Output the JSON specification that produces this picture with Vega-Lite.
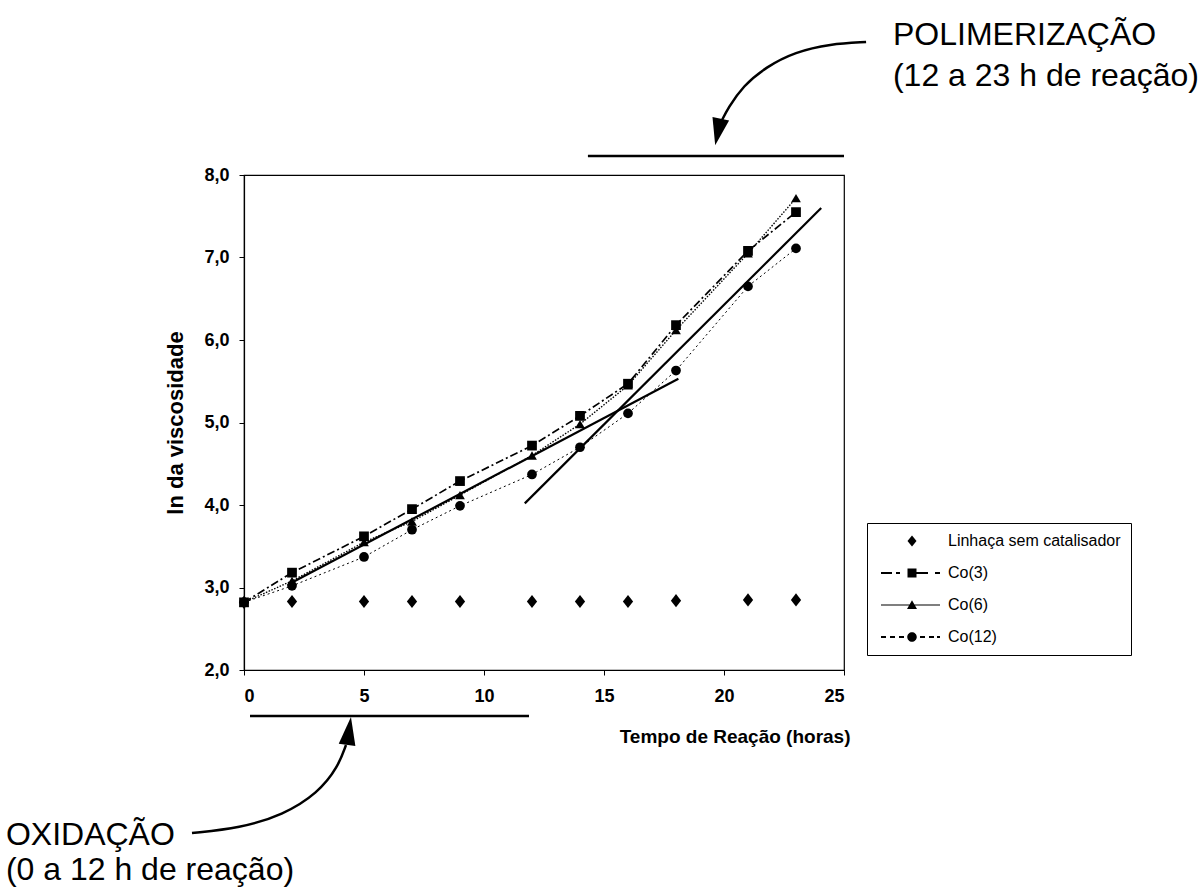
{
  "$schema": "https://vega.github.io/schema/vega-lite/v6.json",
  "width": 600,
  "height": 495,
  "autosize": {"type": "none"},
  "padding": {"left": 244, "top": 175, "right": 358, "bottom": 218},
  "background": "white",
  "config": {
    "view": {"stroke": "black", "strokeWidth": 1.2},
    "font": "Liberation Sans",
    "axis": {
      "grid": false, "domainColor": "black", "domainWidth": 1.2,
      "tickColor": "black", "tickSize": 5, "tickWidth": 1,
      "labelColor": "black", "titleColor": "black",
      "labelFont": "Liberation Sans", "titleFont": "Liberation Sans",
      "labelFontWeight": "bold", "titleFontWeight": "bold",
      "labelFontSize": 18, "titleFontSize": 20
    }
  },
  "datasets": {
    "pts": [
      {"t": 0, "v": 2.82, "serie": "Linhaça sem catalisador"},
      {"t": 2, "v": 2.83, "serie": "Linhaça sem catalisador"},
      {"t": 5, "v": 2.83, "serie": "Linhaça sem catalisador"},
      {"t": 7, "v": 2.83, "serie": "Linhaça sem catalisador"},
      {"t": 9, "v": 2.83, "serie": "Linhaça sem catalisador"},
      {"t": 12, "v": 2.83, "serie": "Linhaça sem catalisador"},
      {"t": 14, "v": 2.83, "serie": "Linhaça sem catalisador"},
      {"t": 16, "v": 2.83, "serie": "Linhaça sem catalisador"},
      {"t": 18, "v": 2.84, "serie": "Linhaça sem catalisador"},
      {"t": 21, "v": 2.85, "serie": "Linhaça sem catalisador"},
      {"t": 23, "v": 2.85, "serie": "Linhaça sem catalisador"},
      {"t": 0, "v": 2.82, "serie": "Co(12)"},
      {"t": 2, "v": 3.02, "serie": "Co(12)"},
      {"t": 5, "v": 3.37, "serie": "Co(12)"},
      {"t": 7, "v": 3.70, "serie": "Co(12)"},
      {"t": 9, "v": 3.99, "serie": "Co(12)"},
      {"t": 12, "v": 4.37, "serie": "Co(12)"},
      {"t": 14, "v": 4.70, "serie": "Co(12)"},
      {"t": 16, "v": 5.11, "serie": "Co(12)"},
      {"t": 18, "v": 5.63, "serie": "Co(12)"},
      {"t": 21, "v": 6.65, "serie": "Co(12)"},
      {"t": 23, "v": 7.11, "serie": "Co(12)"},
      {"t": 0, "v": 2.82, "serie": "Co(6)"},
      {"t": 2, "v": 3.08, "serie": "Co(6)"},
      {"t": 5, "v": 3.55, "serie": "Co(6)"},
      {"t": 7, "v": 3.80, "serie": "Co(6)"},
      {"t": 9, "v": 4.12, "serie": "Co(6)"},
      {"t": 12, "v": 4.60, "serie": "Co(6)"},
      {"t": 14, "v": 4.98, "serie": "Co(6)"},
      {"t": 16, "v": 5.45, "serie": "Co(6)"},
      {"t": 18, "v": 6.12, "serie": "Co(6)"},
      {"t": 21, "v": 7.05, "serie": "Co(6)"},
      {"t": 23, "v": 7.72, "serie": "Co(6)"},
      {"t": 0, "v": 2.82, "serie": "Co(3)"},
      {"t": 2, "v": 3.18, "serie": "Co(3)"},
      {"t": 5, "v": 3.62, "serie": "Co(3)"},
      {"t": 7, "v": 3.95, "serie": "Co(3)"},
      {"t": 9, "v": 4.29, "serie": "Co(3)"},
      {"t": 12, "v": 4.72, "serie": "Co(3)"},
      {"t": 14, "v": 5.08, "serie": "Co(3)"},
      {"t": 16, "v": 5.47, "serie": "Co(3)"},
      {"t": 18, "v": 6.18, "serie": "Co(3)"},
      {"t": 21, "v": 7.08, "serie": "Co(3)"},
      {"t": 23, "v": 7.55, "serie": "Co(3)"}
    ]
  },
  "encoding": {
    "x": {
      "field": "t", "type": "quantitative", "title": "Tempo de Reação (horas)",
      "scale": {"domain": [0, 25], "nice": false, "zero": false},
      "axis": {"values": [0, 5, 10, 15, 20, 25], "labelPadding": 12, "titleAnchor": "end", "titleAlign": "right", "titleX": 606, "titlePadding": 22, "titleFontSize": 19}
    },
    "y": {
      "field": "v", "type": "quantitative", "title": "ln da viscosidade",
      "scale": {"domain": [2, 8], "nice": false, "zero": false},
      "axis": {"values": [2, 3, 4, 5, 6, 7, 8], "labelExpr": "replace(format(datum.value, '.1f'), '.', ',')", "labelPadding": 10, "titlePadding": 16, "titleFontSize": 22}
    }
  },
  "resolve": {"scale": {"shape": "independent"}},
  "layer": [
    {
      "data": {"values": [
        {"t": 0.25, "t2": 11.875, "v": 1.442},
        {"t": 14.33, "t2": 25, "v": 8.23}
      ]},
      "mark": {"type": "rule", "color": "black", "strokeWidth": 2.5},
      "encoding": {"x2": {"field": "t2"}}
    },
    {
      "data": {"values": [
        {"t": 25.92, "v": 9.612, "arrow": "top", "k": 1},
        {"t": 24.42, "v": 9.588, "arrow": "top", "k": 2},
        {"t": 22.96, "v": 9.491, "arrow": "top", "k": 3},
        {"t": 21.75, "v": 9.309, "arrow": "top", "k": 4},
        {"t": 20.79, "v": 9.079, "arrow": "top", "k": 5},
        {"t": 20.17, "v": 8.812, "arrow": "top", "k": 6},
        {"t": 19.875, "v": 8.642, "arrow": "top", "k": 7},
        {"t": -2.167, "v": 0.024, "arrow": "bottom", "k": 1},
        {"t": -0.167, "v": 0.085, "arrow": "bottom", "k": 2},
        {"t": 1.625, "v": 0.242, "arrow": "bottom", "k": 3},
        {"t": 3.083, "v": 0.509, "arrow": "bottom", "k": 4},
        {"t": 3.917, "v": 0.824, "arrow": "bottom", "k": 5},
        {"t": 4.25, "v": 1.091, "arrow": "bottom", "k": 6}
      ]},
      "mark": {"type": "line", "color": "black", "strokeWidth": 2.5, "interpolate": "basis"},
      "encoding": {"detail": {"field": "arrow"}, "order": {"field": "k", "type": "quantitative"}}
    },
    {
      "data": {"values": [{"t": 19.75, "v": 8.521}]},
      "mark": {"type": "point", "filled": true, "color": "black", "opacity": 1, "shape": "M-0.63,-1L0.63,-1L0,1Z", "size": 729, "angle": 12}
    },
    {
      "data": {"values": [{"t": 4.375, "v": 1.261}]},
      "mark": {"type": "point", "filled": true, "color": "black", "opacity": 1, "shape": "M-0.6,1L0.6,1L0,-1Z", "size": 784, "angle": 8}
    },
    {
      "data": {"values": [
        {"t": 27.04, "v": 9.70, "label": "POLIMERIZAÇÃO"},
        {"t": 27.04, "v": 9.20, "label": "(12 a 23 h de reação)"},
        {"t": -9.92, "v": 0.0, "label": "OXIDAÇÃO"},
        {"t": -9.92, "v": -0.424, "label": "(0 a 12 h de reação)"}
      ]},
      "mark": {"type": "text", "align": "left", "baseline": "middle", "font": "Liberation Sans", "fontSize": 32, "color": "black"},
      "encoding": {"text": {"field": "label"}}
    },
    {
      "data": {"name": "pts"},
      "transform": [{"filter": "datum.serie !== 'Linhaça sem catalisador'"}],
      "mark": {"type": "line", "color": "black"},
      "encoding": {
        "strokeDash": {"field": "serie", "type": "nominal", "legend": null,
          "scale": {"domain": ["Co(3)", "Co(6)", "Co(12)"], "range": [[8, 3, 2, 3], [1.5, 1.5], [2, 3]]}},
        "strokeWidth": {"field": "serie", "type": "nominal", "legend": null,
          "scale": {"domain": ["Co(3)", "Co(6)", "Co(12)"], "range": [1.7, 1, 1.8]}}
      }
    },
    {
      "data": {"values": [
        {"t": 2, "v": 3.06, "fit": "a"},
        {"t": 18.1, "v": 5.53, "fit": "a"},
        {"t": 11.7, "v": 4.02, "fit": "b"},
        {"t": 24.05, "v": 7.6, "fit": "b"}
      ]},
      "mark": {"type": "line", "color": "black", "strokeWidth": 2.2},
      "encoding": {"detail": {"field": "fit"}}
    },
    {
      "data": {"name": "pts"},
      "mark": {"type": "point", "filled": true, "color": "black", "opacity": 1, "size": 95},
      "encoding": {
        "shape": {
          "field": "serie", "type": "nominal", "legend": null,
          "scale": {"domain": ["Linhaça sem catalisador", "Co(3)", "Co(6)", "Co(12)"], "range": ["M0,-1.35L1.05,0L0,1.35L-1.05,0Z", "square", "triangle-up", "circle"]}
        }
      }
    },
    {
      "data": {"name": "pts"},
      "transform": [{"filter": "false"}],
      "mark": {"type": "point", "filled": true, "color": "black", "opacity": 1},
      "encoding": {
        "shape": {
          "field": "serie", "type": "nominal",
          "scale": {
            "domain": ["Linhaça sem catalisador", "Co(3)", "Co(6)", "Co(12)"],
            "range": [
              "M0,-1.1L0.9,0L0,1.1L-0.9,0Z",
              "M-6.2,-0.2H-4V0.2H-6.2Z M-3.2,-0.2H-2.4V0.2H-3.2Z M-0.9,-0.9H0.9V0.9H-0.9Z M0.9,-0.2H3.2V0.2H0.9Z M4.6,-0.2H5.6V0.2H4.6Z",
              "M-6.2,-0.1H5.6V0.1H-6.2Z M0,-0.95L1,0.8L-1,0.8Z",
              "M-6.2,-0.2H-5.2V0.2H-6.2Z M-4.4,-0.2H-3.4V0.2H-4.4Z M-2.6,-0.2H-1.6V0.2H-2.6Z M-0.95,0A0.95,0.95 0 1,1 0.95,0A0.95,0.95 0 1,1 -0.95,0Z M1.6,-0.2H2.6V0.2H1.6Z M3.4,-0.2H4.4V0.2H3.4Z M5,-0.2H5.6V0.2H5Z"
            ]
          },
          "legend": {
            "title": null, "orient": "none", "legendX": 623, "legendY": 348,
            "strokeColor": "black", "fillColor": "white", "padding": 10,
            "labelFont": "Liberation Sans", "labelFontSize": 16, "labelColor": "black", "labelLimit": 0,
            "symbolOffset": 27, "labelOffset": 28, "rowPadding": 16, "symbolSize": 100,
            "symbolFillColor": "black", "symbolStrokeWidth": 0, "symbolOpacity": 1
          }
        }
      }
    }
  ]
}
